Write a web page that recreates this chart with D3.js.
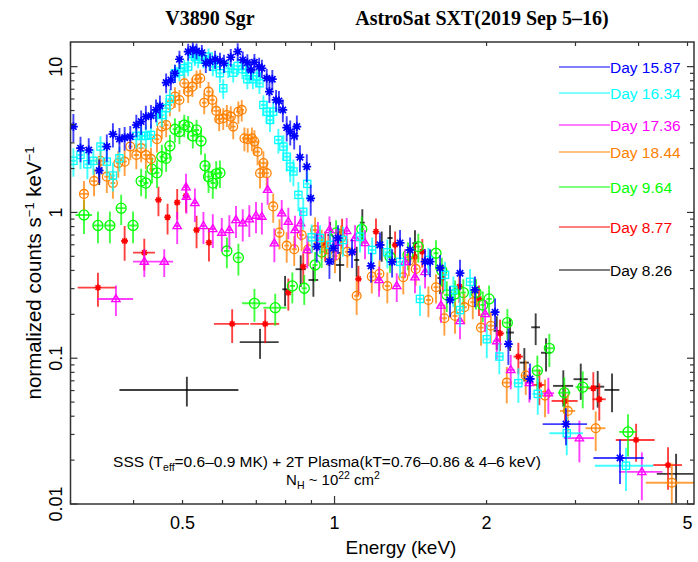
<!DOCTYPE html>
<html>
<head>
<meta charset="utf-8">
<script src="https://cdn.jsdelivr.net/npm/d3@7"></script>
<style>
  html, body { margin: 0; padding: 0; background: #fff; }
  svg { display: block; }
</style>
</head>
<body>
<svg id="chart" width="698" height="562"></svg>
<script>
// Rows: [energy keV, energy half-width, normalized counts, counts error]
const day1587 = [
  [0.304,0.004,3.88,0.85],[0.314,0.004,2.76,0.55],[0.326,0.004,2.68,0.55],[0.342,0.004,1.94,0.35],
  [0.354,0.004,2.83,0.6],[0.364,0.004,3.44,0.65],[0.375,0.004,3.19,0.6],[0.384,0.004,3.26,0.6],
  [0.394,0.004,3.31,0.6],[0.405,0.005,3.98,0.7],[0.414,0.005,4.20,0.8],[0.423,0.005,4.54,0.85],
  [0.433,0.005,4.61,0.85],[0.443,0.005,5.05,0.9],[0.451,0.005,5.38,0.95],[0.464,0.005,7.77,1.2],
  [0.474,0.005,8.10,1.2],[0.483,0.005,9.01,1.3],[0.493,0.006,11.24,1.6],[0.513,0.006,12.67,1.7],
  [0.524,0.006,13.16,1.7],[0.533,0.006,12.81,1.6],[0.546,0.006,12.47,1.6],[0.556,0.006,10.55,1.5],
  [0.567,0.006,10.82,1.5],[0.580,0.007,11.24,1.6],[0.593,0.007,10.94,1.5],[0.604,0.007,10.55,1.5],
  [0.623,0.007,11.60,1.6],[0.643,0.007,12.67,1.8],[0.658,0.007,11.12,1.6],[0.672,0.008,10.65,1.5],
  [0.683,0.008,9.49,1.4],[0.694,0.008,10.72,1.5],[0.709,0.008,10.0,1.5],[0.718,0.008,9.75,1.4],
  [0.734,0.008,8.33,1.3],[0.743,0.008,6.74,1.1],[0.753,0.009,8.20,1.3],[0.766,0.009,5.91,1.0],
  [0.776,0.009,5.82,1.0],[0.790,0.009,5.05,0.9],[0.804,0.009,3.82,0.75],[0.817,0.009,3.58,0.7],
  [0.832,0.010,3.35,0.65],[0.842,0.010,3.88,0.75],[0.854,0.010,2.39,0.5],[0.881,0.010,2.06,0.45],
  [0.897,0.010,1.25,0.3],[0.922,0.011,0.583,0.13],[0.977,0.011,0.460,0.11],[0.995,0.011,0.568,0.13],
  [1.016,0.012,0.668,0.15],[1.083,0.012,0.536,0.12],[1.181,0.013,0.430,0.1],[1.23,0.013,0.599,0.13],
  [1.300,0.015,0.458,0.1],[1.348,0.015,0.618,0.14],[1.411,0.016,0.553,0.12],[1.511,0.017,0.460,0.1],
  [1.546,0.017,0.460,0.1],[1.618,0.019,0.416,0.095],[1.693,0.02,0.251,0.06],[1.772,0.02,0.383,0.09],
  [1.897,0.022,0.294,0.07],[2.079,0.03,0.207,0.05],[2.209,0.04,0.125,0.035],[2.438,0.05,0.0721,0.02],
  [2.873,0.29,0.0353,0.01],[3.675,0.42,0.0207,0.007]
];
const day1634 = [
  [0.304,0.004,2.26,0.5],[0.314,0.004,2.48,0.5],[0.324,0.004,2.14,0.45],[0.333,0.004,2.26,0.45],
  [0.344,0.004,2.83,0.5],[0.354,0.004,2.23,0.45],[0.364,0.004,1.79,0.4],[0.375,0.004,2.35,0.45],
  [0.405,0.005,3.35,0.6],[0.414,0.005,3.35,0.6],[0.423,0.005,3.35,0.6],[0.433,0.005,3.40,0.6],
  [0.445,0.005,4.72,0.8],[0.455,0.005,4.66,0.8],[0.464,0.005,5.19,0.9],[0.472,0.005,6.00,1.0],
  [0.483,0.005,9.01,1.3],[0.493,0.006,9.24,1.3],[0.504,0.006,9.75,1.4],[0.513,0.006,10.0,1.4],
  [0.524,0.006,12.22,1.6],[0.529,0.006,11.71,1.6],[0.537,0.006,11.24,1.5],[0.550,0.006,11.24,1.5],
  [0.563,0.006,11.71,1.6],[0.574,0.006,10.0,1.4],[0.583,0.007,10.55,1.5],[0.593,0.007,9.01,1.3],
  [0.602,0.007,7.11,1.1],[0.616,0.007,9.75,1.4],[0.630,0.007,9.09,1.3],[0.643,0.007,10.11,1.4],
  [0.657,0.007,9.60,1.4],[0.668,0.008,9.60,1.4],[0.672,0.008,8.20,1.2],[0.689,0.008,8.20,1.2],
  [0.702,0.008,8.54,1.3],[0.710,0.008,7.69,1.2],[0.723,0.008,5.46,0.9],[0.734,0.008,4.91,0.85],
  [0.745,0.008,4.31,0.75],[0.756,0.009,4.91,0.85],[0.774,0.009,3.14,0.6],[0.792,0.009,2.83,0.55],
  [0.804,0.009,2.41,0.5],[0.817,0.009,2.06,0.45],[0.829,0.010,1.91,0.4],[0.848,0.010,1.32,0.3],
  [0.867,0.010,1.01,0.25],[0.883,0.010,1.57,0.35],[0.901,0.011,0.676,0.15],[0.936,0.011,0.668,0.15],
  [0.980,0.011,0.599,0.14],[1.039,0.012,0.647,0.15],[1.123,0.013,0.682,0.15],[1.187,0.014,0.553,0.12],
  [1.272,0.015,0.533,0.12],[1.348,0.015,0.458,0.1],[1.476,0.017,0.255,0.06],[1.534,0.018,0.472,0.1],
  [1.655,0.019,0.373,0.085],[1.719,0.02,0.294,0.07],[1.772,0.02,0.214,0.05],[1.855,0.022,0.334,0.075],
  [2.002,0.03,0.135,0.035],[2.120,0.04,0.1026,0.025],[2.312,0.05,0.0674,0.018],[2.526,0.06,0.0569,0.016],
  [2.883,0.22,0.0306,0.009],[3.777,0.5,0.0183,0.006]
];
const day1736 = [
  [0.369,0.030,0.255,0.06],[0.420,0.021,0.460,0.1],[0.460,0.019,0.460,0.1],[0.488,0.006,0.808,0.2],
  [0.508,0.006,1.49,0.35],[0.509,0.006,1.28,0.3],[0.529,0.006,1.16,0.3],[0.550,0.006,0.808,0.2],
  [0.574,0.007,0.770,0.2],[0.598,0.007,0.727,0.19],[0.619,0.007,0.758,0.2],[0.638,0.007,0.888,0.22],
  [0.658,0.007,0.843,0.21],[0.678,0.008,0.898,0.22],[0.699,0.008,0.951,0.23],[0.718,0.008,0.936,0.23],
  [0.737,0.008,1.43,0.3],[0.760,0.009,0.615,0.16],[0.786,0.009,0.987,0.23],[0.810,0.009,0.865,0.21],
  [0.835,0.010,0.758,0.19],[0.857,0.010,0.843,0.2],[0.883,0.010,0.553,0.14],[0.927,0.011,0.701,0.16],
  [0.977,0.011,0.758,0.18],[1.007,0.012,0.621,0.15],[1.057,0.012,0.747,0.17],[1.098,0.013,0.668,0.15],
  [1.149,0.013,0.618,0.14],[1.225,0.014,0.344,0.08],[1.328,0.015,0.313,0.07],[1.379,0.016,0.458,0.1],
  [1.443,0.017,0.359,0.08],[1.511,0.018,0.391,0.09],[1.625,0.02,0.230,0.055],[1.772,0.02,0.180,0.045],
  [1.987,0.03,0.201,0.05],[2.095,0.03,0.131,0.033],[2.233,0.04,0.0832,0.022],[2.431,0.05,0.0677,0.018],
  [2.651,0.07,0.0575,0.016],[3.054,0.21,0.0283,0.009],[4.06,0.4,0.0166,0.006]
];
const day1844 = [
  [0.319,0.006,1.34,0.3],[0.334,0.005,1.64,0.35],[0.344,0.004,2.26,0.45],[0.354,0.004,1.76,0.4],
  [0.364,0.004,1.59,0.35],[0.373,0.004,2.18,0.45],[0.384,0.004,2.23,0.45],[0.394,0.004,2.83,0.55],
  [0.405,0.005,2.48,0.5],[0.414,0.005,2.76,0.55],[0.423,0.005,2.48,0.5],[0.433,0.005,2.33,0.45],
  [0.445,0.005,3.18,0.6],[0.455,0.005,3.88,0.7],[0.464,0.005,3.98,0.7],[0.472,0.005,5.46,0.9],
  [0.483,0.005,6.23,1.0],[0.493,0.006,5.91,1.0],[0.504,0.006,7.69,1.2],[0.513,0.006,6.74,1.1],
  [0.523,0.006,7.29,1.1],[0.533,0.006,8.20,1.2],[0.542,0.006,8.33,1.2],[0.552,0.006,5.66,0.95],
  [0.563,0.006,6.74,1.1],[0.573,0.006,5.91,1.0],[0.583,0.007,4.97,0.85],[0.591,0.007,4.36,0.75],
  [0.602,0.007,4.43,0.75],[0.612,0.007,4.66,0.8],[0.623,0.007,4.54,0.8],[0.630,0.007,3.88,0.7],
  [0.645,0.007,4.91,0.85],[0.655,0.007,5.05,0.85],[0.663,0.008,3.23,0.6],[0.673,0.008,3.18,0.6],
  [0.686,0.008,3.23,0.6],[0.694,0.008,3.06,0.6],[0.704,0.008,2.61,0.5],[0.712,0.008,1.86,0.4],
  [0.723,0.008,2.18,0.45],[0.734,0.008,1.86,0.4],[0.756,0.009,1.10,0.25],[0.778,0.009,0.727,0.17],
  [0.804,0.009,0.592,0.14],[0.832,0.010,0.559,0.13],[0.861,0.010,0.701,0.16],[0.887,0.010,0.559,0.13],
  [0.915,0.011,0.758,0.17],[0.943,0.011,0.621,0.14],[0.972,0.011,0.559,0.13],[1.002,0.012,0.503,0.12],
  [1.030,0.012,0.665,0.15],[1.060,0.012,0.538,0.12],[1.106,0.013,0.268,0.07],[1.185,0.014,0.363,0.085],
  [1.227,0.014,0.379,0.09],[1.272,0.015,0.313,0.075],[1.368,0.016,0.359,0.085],[1.404,0.016,0.465,0.1],
  [1.448,0.017,0.410,0.095],[1.534,0.018,0.251,0.06],[1.588,0.018,0.307,0.07],[1.650,0.019,0.188,0.045],
  [1.732,0.02,0.195,0.048],[1.807,0.021,0.224,0.053],[1.878,0.022,0.242,0.057],[1.950,0.025,0.162,0.04],
  [2.039,0.03,0.167,0.04],[2.193,0.04,0.068,0.019],[2.391,0.05,0.076,0.02],[2.611,0.07,0.0554,0.016],
  [2.896,0.1,0.0435,0.013],[3.290,0.15,0.0331,0.01],[4.654,0.52,0.014,0.005]
];
const day964 = [
  [0.319,0.012,0.961,0.25],[0.340,0.008,0.814,0.2],[0.359,0.008,0.814,0.2],[0.378,0.008,1.07,0.25],
  [0.399,0.008,0.814,0.2],[0.414,0.005,1.64,0.35],[0.423,0.005,1.59,0.35],[0.435,0.005,1.98,0.4],
  [0.445,0.005,1.87,0.4],[0.455,0.005,2.41,0.5],[0.464,0.005,2.35,0.45],[0.472,0.005,2.86,0.55],
  [0.483,0.005,3.72,0.7],[0.493,0.006,3.58,0.65],[0.504,0.006,3.98,0.7],[0.513,0.006,3.88,0.7],
  [0.524,0.006,3.35,0.6],[0.533,0.006,3.68,0.65],[0.544,0.006,3.09,0.6],[0.554,0.006,2.09,0.45],
  [0.563,0.006,1.76,0.4],[0.574,0.006,1.59,0.35],[0.583,0.007,1.84,0.4],[0.593,0.007,1.87,0.4],
  [0.612,0.008,0.544,0.13],[0.645,0.009,0.490,0.12],[0.694,0.038,0.238,0.06],[0.763,0.040,0.222,0.055],
  [0.825,0.01,0.313,0.075],[0.871,0.01,0.302,0.07],[0.915,0.011,0.436,0.1],[0.943,0.011,0.536,0.12],
  [1.007,0.012,0.723,0.16],[1.132,0.013,0.767,0.17],[1.288,0.015,0.495,0.11],[1.398,0.016,0.511,0.11],
  [1.465,0.017,0.583,0.13],[1.588,0.018,0.525,0.12],[1.631,0.019,0.399,0.09],[1.668,0.02,0.272,0.065],
  [1.732,0.02,0.276,0.065],[1.799,0.021,0.282,0.066],[1.906,0.022,0.282,0.066],[1.966,0.023,0.232,0.055],
  [2.023,0.025,0.255,0.06],[2.199,0.04,0.1754,0.042],[2.521,0.05,0.0822,0.022],[2.663,0.06,0.117,0.03],
  [2.851,0.08,0.058,0.016],[3.101,0.1,0.0633,0.018],[3.812,0.15,0.0312,0.01]
];
const day877 = [
  [0.340,0.03,0.305,0.08],[0.384,0.006,0.637,0.17],[0.420,0.021,0.530,0.13],[0.448,0.006,1.22,0.28],
  [0.467,0.006,0.927,0.22],[0.488,0.006,1.17,0.28],[0.508,0.006,1.30,0.3],[0.533,0.006,0.758,0.19],
  [0.564,0.007,0.621,0.16],[0.627,0.05,0.172,0.045],[0.729,0.048,0.172,0.045],[0.810,0.009,0.282,0.07],
  [0.867,0.01,0.425,0.1],[0.958,0.011,0.599,0.14],[1.035,0.012,0.735,0.17],[1.115,0.013,0.350,0.08],
  [1.208,0.014,0.738,0.17],[1.318,0.015,0.599,0.14],[1.443,0.017,0.495,0.11],[1.492,0.017,0.538,0.12],
  [1.638,0.019,0.357,0.08],[1.767,0.021,0.310,0.07],[1.932,0.025,0.255,0.06],[2.127,0.04,0.148,0.036],
  [2.312,0.05,0.1026,0.025],[2.544,0.07,0.0656,0.018],[2.860,0.17,0.0509,0.014],[3.254,0.1,0.0622,0.018],
  [3.344,0.1,0.0523,0.015],[3.955,0.35,0.0275,0.008],[4.575,0.3,0.0185,0.006]
];
const day826 = [
  [0.342,0.006,1.94,0.4],[0.510,0.135,0.0606,0.014],[0.712,0.063,0.129,0.03],[0.798,0.01,0.297,0.07],
  [0.857,0.02,0.408,0.1],[0.908,0.02,0.344,0.08],[0.980,0.012,0.701,0.16],[1.025,0.02,0.436,0.1],
  [1.106,0.013,0.472,0.11],[1.135,0.013,0.851,0.2],[1.240,0.015,0.599,0.14],[1.288,0.015,0.668,0.15],
  [1.443,0.017,0.615,0.14],[1.618,0.019,0.355,0.08],[2.095,0.03,0.154,0.04],[2.226,0.04,0.150,0.038],
  [2.376,0.05,0.0933,0.024],[2.502,0.05,0.163,0.04],[2.623,0.06,0.109,0.028],[2.838,0.13,0.0646,0.018],
  [3.073,0.1,0.0718,0.02],[3.320,0.1,0.0638,0.018],[3.544,0.12,0.0606,0.018],[4.746,0.4,0.0161,0.006]
];

const seriesNames = ["Day 15.87","Day 16.34","Day 17.36","Day 18.44","Day 9.64","Day 8.77","Day 8.26"];
const seriesData = [day1587, day1634, day1736, day1844, day964, day877, day826];
const seriesColors = ["#0000ff","#00ffff","#ff00ff","#ff8000","#00ff00","#ff0000","#000000"];
const seriesMarkers = ["asterisk","square","triangle","circle","circleL","star","none"];
const xTickLabels = [0.5, 1, 2, 5];
const xMinorTicks = [0.3,0.4,0.5,0.6,0.7,0.8,0.9,2,3,4,5];
const yMajorTicks = [0.01, 0.1, 1, 10];
const yTickLabels = ["0.01","0.1","1","10"];

const SANS = '"Liberation Sans", Arial, Helvetica, sans-serif';
const SERIF = '"Liberation Serif", "Times New Roman", serif';

const svg = d3.select("#chart").style("font-family", SANS);
const M = {left: 70.5, right: 694, top: 42, bottom: 504};
const x = d3.scaleLog().domain([0.3, 5.15]).range([M.left, M.right]);
const y = d3.scaleLog().domain([0.01, 14.76]).range([M.bottom, M.top]);

svg.append("defs").append("clipPath").attr("id", "plotclip")
  .append("rect").attr("x", M.left).attr("y", M.top)
  .attr("width", M.right - M.left).attr("height", M.bottom - M.top);

const plot = svg.append("g").attr("clip-path", "url(#plotclip)");

// draw in reverse legend order so the late-day spectra sit on top
for (let s = seriesData.length - 1; s >= 0; s--) {
  const col = seriesColors[s];
  const g = plot.append("g");
  const pts = seriesData[s];
  const bars = g.append("g").attr("stroke", col).attr("stroke-width", 1.9).attr("stroke-opacity", 0.75);
  pts.forEach(([e, de, v, dv]) => {
    const lo = Math.max(v - dv, 0.001);
    bars.append("line").attr("x1", x(e - de)).attr("x2", x(e + de)).attr("y1", y(v)).attr("y2", y(v));
    bars.append("line").attr("x1", x(e)).attr("x2", x(e)).attr("y1", y(lo)).attr("y2", y(v + dv));
  });
  const mk = g.append("g").attr("stroke", col).attr("fill", "none").attr("stroke-width", 1.3);
  pts.forEach(([e, de, v]) => {
    const cx = x(e), cy = y(v);
    const type = seriesMarkers[s];
    if (type === "asterisk" || type === "star") {
      const r = type === "asterisk" ? 4.4 : 3.3;
      const d = r * 0.72;
      mk.append("path").attr("stroke-width", type === "asterisk" ? 1.7 : 1.5)
        .attr("d", `M${cx - r},${cy}H${cx + r}M${cx},${cy - r}V${cy + r}M${cx - d},${cy - d}L${cx + d},${cy + d}M${cx - d},${cy + d}L${cx + d},${cy - d}`);
    } else if (type === "square") {
      mk.append("rect").attr("x", cx - 3.6).attr("y", cy - 3.6).attr("width", 7.2).attr("height", 7.2);
    } else if (type === "triangle") {
      const r = 4.4;
      mk.append("path").attr("d", `M${cx},${cy - r}L${cx + r * 0.95},${cy + r * 0.6}L${cx - r * 0.95},${cy + r * 0.6}Z`);
    } else if (type === "circle") {
      mk.append("circle").attr("cx", cx).attr("cy", cy).attr("r", 4.4);
    } else if (type === "circleL") {
      mk.append("circle").attr("cx", cx).attr("cy", cy).attr("r", 5);
    }
  });
}

// frame
const axisCol = "#333";
svg.append("rect").attr("x", M.left).attr("y", M.top)
  .attr("width", M.right - M.left).attr("height", M.bottom - M.top)
  .attr("fill", "none").attr("stroke", axisCol).attr("stroke-width", 1.5);

const ticks = svg.append("g").attr("stroke", axisCol).attr("stroke-width", 1.2);
function xTick(v, len) {
  const px = x(v);
  ticks.append("line").attr("x1", px).attr("x2", px).attr("y1", M.bottom).attr("y2", M.bottom - len);
  ticks.append("line").attr("x1", px).attr("x2", px).attr("y1", M.top).attr("y2", M.top + len);
}
xMinorTicks.forEach(v => xTick(v, 4));
xTick(1, 8);
function yTick(v, len) {
  const py = y(v);
  ticks.append("line").attr("x1", M.left).attr("x2", M.left + len).attr("y1", py).attr("y2", py);
  ticks.append("line").attr("x1", M.right).attr("x2", M.right - len).attr("y1", py).attr("y2", py);
}
yMajorTicks.forEach(d0 => {
  yTick(d0, 7);
  for (let k = 2; k <= 9; k++) { if (d0 * k <= 14.76) yTick(d0 * k, 4); }
});

// tick labels
svg.append("g").selectAll("text").data(xTickLabels).join("text")
  .attr("x", d => x(d)).attr("y", 529).attr("text-anchor", "middle")
  .attr("font-size", 18).attr("fill", "#000").text(d => d);
svg.append("g").selectAll("text").data(yMajorTicks).join("text")
  .attr("transform", d => `translate(62,${y(d)}) rotate(-90)`)
  .attr("text-anchor", "middle").attr("font-size", 18).attr("fill", "#000")
  .text((d, i) => yTickLabels[i]);

// axis titles
svg.append("text").attr("x", 401).attr("y", 554)
  .attr("text-anchor", "middle").attr("font-size", 19).text("Energy (keV)");
const yt = svg.append("text").attr("transform", `translate(41,${(M.top + M.bottom) / 2}) rotate(-90)`)
  .attr("text-anchor", "middle").attr("font-size", 20.5);
yt.append("tspan").text("normalized counts s");
yt.append("tspan").attr("dy", -7).attr("font-size", 13).text("−1");
yt.append("tspan").attr("dy", 7).text(" keV");
yt.append("tspan").attr("dy", -7).attr("font-size", 13).text("−1");

// title
svg.append("text").attr("x", 210).attr("y", 25).attr("text-anchor", "middle")
  .style("font-family", SERIF).attr("font-weight", "bold")
  .attr("font-size", 20).text("V3890 Sgr");
svg.append("text").attr("x", 482).attr("y", 25).attr("text-anchor", "middle")
  .style("font-family", SERIF).attr("font-weight", "bold")
  .attr("font-size", 20).text("AstroSat SXT(2019 Sep 5–16)");

// legend
const legendY = [67, 93, 125, 152, 187, 227, 270];
const lg = svg.append("g");
seriesNames.forEach((name, i) => {
  lg.append("line").attr("x1", 559).attr("x2", 610).attr("y1", legendY[i]).attr("y2", legendY[i])
    .attr("stroke", seriesColors[i]).attr("stroke-width", 1.2);
  lg.append("text").attr("x", 610).attr("y", legendY[i] + 5.5).attr("font-size", 15.5)
    .attr("fill", seriesColors[i]).text(name);
});

// model annotation
const a1 = svg.append("text").attr("x", 327).attr("y", 467).attr("text-anchor", "middle").attr("font-size", 15.5);
a1.append("tspan").text("SSS (T");
a1.append("tspan").attr("dy", 4).attr("font-size", 10.5).text("eff");
a1.append("tspan").attr("dy", -4).text("=0.6–0.9 MK) + 2T Plasma(kT=0.76–0.86 & 4–6 keV)");
const a2 = svg.append("text").attr("x", 333).attr("y", 485).attr("text-anchor", "middle").attr("font-size", 15);
a2.append("tspan").text("N");
a2.append("tspan").attr("dy", 4).attr("font-size", 10.5).text("H");
a2.append("tspan").attr("dy", -4).text(" ~ 10");
a2.append("tspan").attr("dy", -6).attr("font-size", 10.5).text("22");
a2.append("tspan").attr("dy", 6).text(" cm");
a2.append("tspan").attr("dy", -6).attr("font-size", 10.5).text("2");
</script>
</body>
</html>
